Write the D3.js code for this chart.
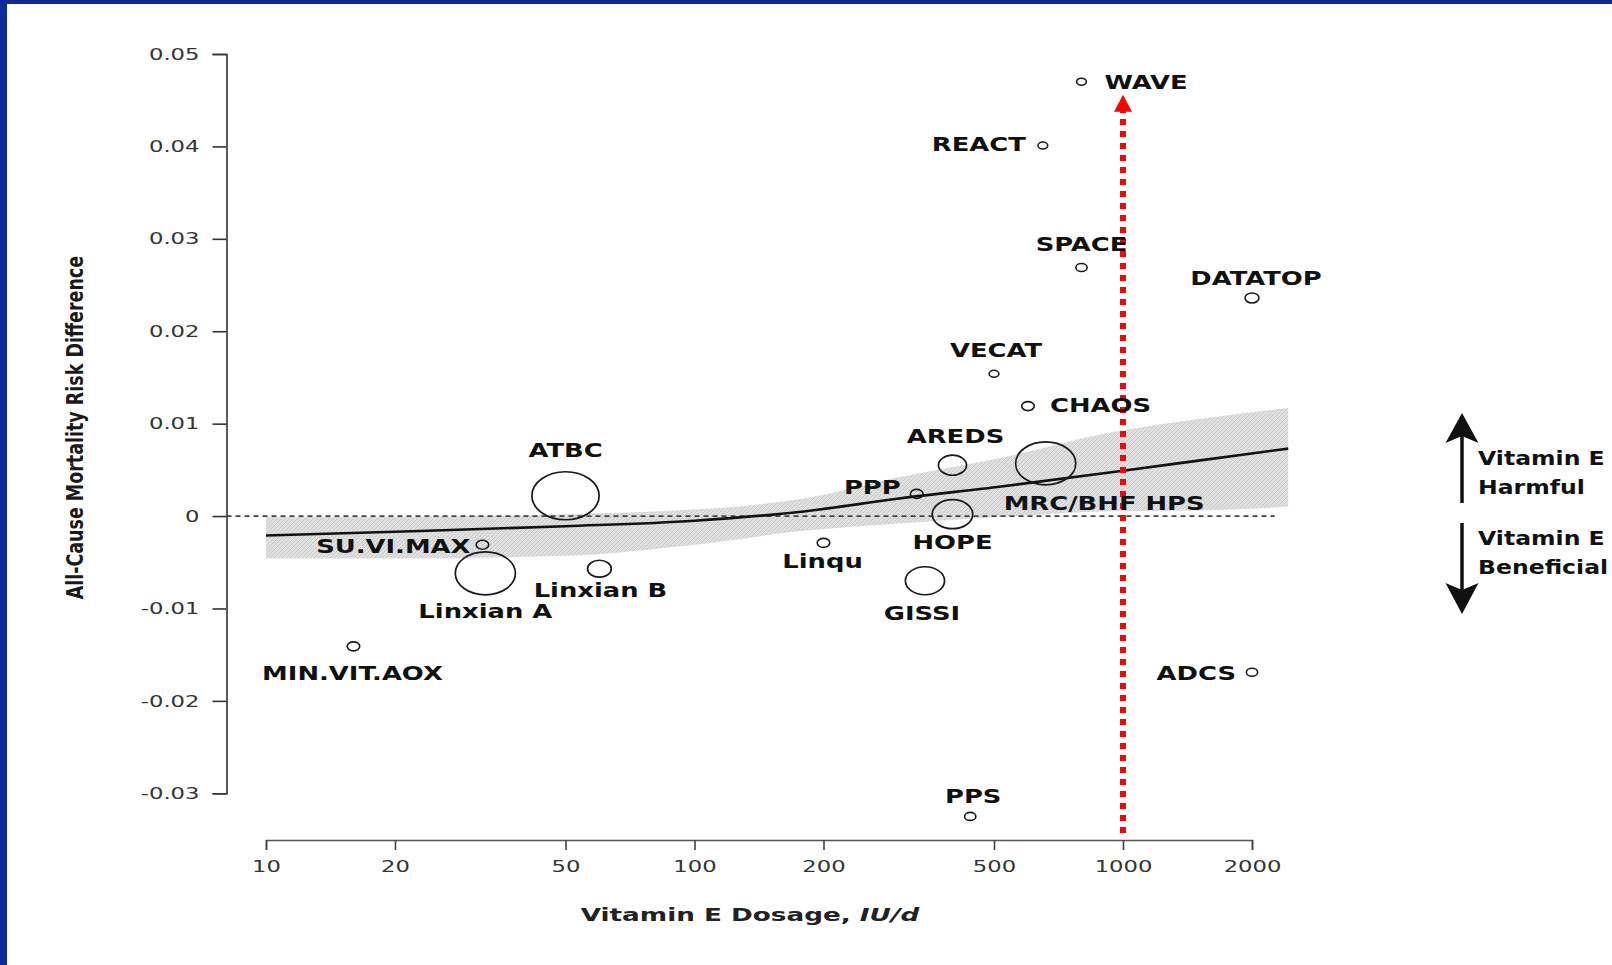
<!DOCTYPE html>
<html>
<head>
<meta charset="utf-8">
<script src="https://cdn.jsdelivr.net/npm/d3@7"></script>
<style>
  html, body { margin: 0; padding: 0; background: #fff; overflow: hidden; }
  svg { display: block; }
  text { font-family: "DejaVu Sans", sans-serif; }
</style>
</head>
<body>
<svg id="chart" width="1612" height="965"></svg>
<script>
// ---- Trials: dose (IU/d), all-cause mortality risk difference, relative weight ----
const studies = ["WAVE", "REACT", "SPACE", "DATATOP", "VECAT", "CHAOS", "AREDS", "PPP", "HOPE",
  "MRC/BHF HPS", "ATBC", "SU.VI.MAX", "Linxian A", "Linxian B", "MIN.VIT.AOX", "Linqu", "GISSI", "ADCS", "PPS"];
const dose = [800, 650, 800, 2000, 500, 600, 400, 330, 400,
  660, 50, 32, 32.5, 60, 16, 200, 345, 2000, 440];
const riskDiff = [0.0470, 0.0401, 0.0269, 0.0236, 0.0154, 0.0119, 0.0055, 0.0024, 0.0002,
  0.0057, 0.0022, -0.0031, -0.0062, -0.0057, -0.0141, -0.0029, -0.0070, -0.0169, -0.0325];
const weight = [2.1, 2.1, 2.8, 4.3, 2.1, 3.5, 17.4, 3.5, 36.5,
  80, 100, 3.5, 80, 12.5, 3.5, 3.5, 34, 2.8, 2.8];

// ---- Dose-response fit and its confidence band ----
const fitDose = [10, 20, 50, 100, 180, 300, 520, 1000, 1500, 2430];
const fitValue = [-0.0021, -0.0017, -0.0011, -0.0005, 0.0005, 0.0019, 0.0032, 0.0049, 0.0060, 0.0073];
const bandDose = [10, 20, 50, 100, 180, 300, 520, 900, 1500, 2430];
const bandUpper = [-0.0001, -0.0001, 0.0002, 0.0007, 0.0019, 0.0042, 0.0063, 0.0089, 0.0105, 0.0117];
const bandLower = [-0.0046, -0.0046, -0.0043, -0.0031, -0.0016, -0.0008, -0.0001, 0.0005, 0.0006, 0.0010];

// ---- Axes ----
const xTicks = [10, 20, 50, 100, 200, 500, 1000, 2000];
const yTicks = [-0.03, -0.02, -0.01, 0, 0.01, 0.02, 0.03, 0.04, 0.05];
const yTickLabels = ["-0.03", "-0.02", "-0.01", "0", "0.01", "0.02", "0.03", "0.04", "0.05"];
const xTitle = "Vitamin E Dosage, ";
const xTitleUnit = "IU/d";
const yTitle = "All-Cause Mortality Risk Difference";

// ---- Highlighted dose and side legend ----
const highlightDose = 1000;
const highlightTop = 0.0456;
const zeroLineEndDose = 2260;
const legendUp = ["Vitamin E", "Harmful"];
const legendDown = ["Vitamin E", "Beneficial"];

// Label placement relative to each bubble: [anchor, dx, dy] in px
const labelLayout = {
  "WAVE": ["start", 23, 7], "REACT": ["end", -17, 6], "SPACE": ["middle", 0, -16],
  "DATATOP": ["middle", 4, -13], "VECAT": ["middle", 2, -17], "CHAOS": ["start", 22, 6],
  "AREDS": ["middle", 3, -22], "PPP": ["end", -16, 0], "HOPE": ["middle", 0, 35],
  "MRC/BHF HPS": ["start", -42, 47], "ATBC": ["middle", 0, -39], "SU.VI.MAX": ["end", -12, 8],
  "Linxian A": ["middle", 0, 45], "Linxian B": ["middle", 1, 28], "MIN.VIT.AOX": ["middle", -1, 34],
  "Linqu": ["middle", -1, 25], "GISSI": ["middle", -3, 39], "ADCS": ["end", -16, 8], "PPS": ["middle", 3, -13]
};

const SX = 1.36;      // horizontal glyph stretch for labels
const SXA = 1.42;     // horizontal glyph stretch for tick labels
const RX = 1.4;       // bubble horizontal/vertical ratio

const svg = d3.select("#chart");
const W = 1612, H = 965;

// frame
svg.append("rect").attr("width", W).attr("height", H).attr("fill", "#0b2d93");
svg.append("rect").attr("x", 7).attr("y", 4).attr("width", W - 7).attr("height", H - 4).attr("fill", "#ffffff");

// pattern for the confidence band
const defs = svg.append("defs");
const pat = defs.append("pattern").attr("id", "hatch").attr("patternUnits", "userSpaceOnUse")
  .attr("width", 4).attr("height", 4);
pat.append("rect").attr("width", 4).attr("height", 4).attr("fill", "#e0e0e0");
pat.append("path").attr("d", "M-1,1 l2,-2 M0,4 l4,-4 M3,5 l2,-2").attr("stroke", "#c9c9c9").attr("stroke-width", 1);

const x = d3.scaleLog().domain([10, 2000]).range([266, 1252]);
const y = d3.scaleLinear().domain([-0.03, 0.05]).range([793.3, 54]);
const r = d3.scaleSqrt().domain([0, 100]).range([0, 24]);
const yAxisX = 226.5, xAxisY = 840;

// stretch helper for axis text
function stretchAxisText(sel) {
  sel.selectAll(".tick text").each(function () {
    const t = d3.select(this);
    const tx = +t.attr("x") || 0, ty = +t.attr("y") || 0;
    t.attr("x", null).attr("y", null)
      .attr("transform", `translate(${tx},${ty}) scale(${SXA},1)`);
  });
}

// confidence band
const band = bandDose.map((d, i) => ({ d, lo: bandLower[i], hi: bandUpper[i] }));
svg.append("path").datum(band)
  .attr("fill", "url(#hatch)")
  .attr("d", d3.area().x(p => x(p.d)).y0(p => y(p.lo)).y1(p => y(p.hi)).curve(d3.curveMonotoneX));

// zero reference
svg.append("line")
  .attr("x1", yAxisX).attr("x2", x(zeroLineEndDose))
  .attr("y1", y(0)).attr("y2", y(0))
  .attr("stroke", "#444").attr("stroke-width", 1.7).attr("stroke-dasharray", "5,4");

// fitted line
const fit = fitDose.map((d, i) => ({ d, v: fitValue[i] }));
svg.append("path").datum(fit)
  .attr("fill", "none").attr("stroke", "#111").attr("stroke-width", 2.6)
  .attr("d", d3.line().x(p => x(p.d)).y(p => y(p.v)).curve(d3.curveMonotoneX));

// y axis
const yAxis = svg.append("g").attr("transform", `translate(${yAxisX},0)`)
  .call(d3.axisLeft(y).tickValues(yTicks).tickFormat((d, i) => yTickLabels[i])
    .tickSize(14).tickSizeOuter(14).tickPadding(13));
yAxis.select(".domain").attr("stroke", "#333").attr("stroke-width", 1.6);
yAxis.selectAll(".tick line").attr("stroke", "#333").attr("stroke-width", 1.6);
yAxis.selectAll(".tick text").attr("font-size", 16).attr("fill", "#333");
stretchAxisText(yAxis);

// x axis
const xAxis = svg.append("g").attr("transform", `translate(0,${xAxisY})`)
  .call(d3.axisBottom(x).tickValues(xTicks).tickFormat(d3.format("d"))
    .tickSize(10).tickSizeOuter(10).tickPadding(11));
xAxis.select(".domain").attr("stroke", "#555").attr("stroke-width", 1.6);
xAxis.selectAll(".tick line").attr("stroke", "#444").attr("stroke-width", 1.6);
xAxis.selectAll(".tick text").attr("font-size", 16).attr("fill", "#333");
stretchAxisText(xAxis);

// axis titles
const xt = svg.append("text")
  .attr("transform", `translate(${(x(10) + x(2000)) / 2 - 9},921) scale(1.5,1)`)
  .attr("text-anchor", "middle").attr("font-size", 17.5).attr("font-weight", "bold").attr("fill", "#222");
xt.append("tspan").text(xTitle);
xt.append("tspan").attr("font-style", "italic").text(xTitleUnit);

svg.append("text")
  .attr("transform", `translate(83,${(y(-0.03) + y(0.05)) / 2 + 4}) scale(1.35,1) rotate(-90)`)
  .attr("text-anchor", "middle").attr("font-size", 17.5).attr("font-weight", "bold").attr("fill", "#1a1a1a")
  .text(yTitle);

// highlighted dose marker
const hx = x(highlightDose);
const tipY = y(highlightTop);
svg.append("line")
  .attr("x1", hx).attr("x2", hx).attr("y1", xAxisY - 7).attr("y2", tipY + 16)
  .attr("stroke", "#ff0000").attr("stroke-width", 6).attr("stroke-dasharray", "6,6");
svg.append("path")
  .attr("d", `M${hx},${tipY} L${hx + 9},${tipY + 17} L${hx - 9},${tipY + 17} Z`)
  .attr("fill", "#ff0000");

// trial bubbles
const trials = studies.map((s, i) => ({ name: s, dose: dose[i], rd: riskDiff[i], w: weight[i] }));
svg.append("g").selectAll("ellipse").data(trials).join("ellipse")
  .attr("cx", d => x(d.dose)).attr("cy", d => y(d.rd))
  .attr("rx", d => r(d.w) * RX).attr("ry", d => r(d.w))
  .attr("fill", "none").attr("stroke", "#1a1a1a")
  .attr("stroke-width", d => r(d.w) > 8 ? 1.7 : 1.6);

// trial labels
svg.append("g").selectAll("text").data(trials).join("text")
  .attr("transform", d => {
    const L = labelLayout[d.name];
    return `translate(${x(d.dose) + L[1]},${y(d.rd) + L[2]}) scale(${SX},1)`;
  })
  .attr("text-anchor", d => labelLayout[d.name][0])
  .attr("font-size", 19).attr("font-weight", "bold").attr("fill", "#111")
  .text(d => d.name);

// side legend: harmful / beneficial arrows
const lx = 1462;
const lg = svg.append("g");
lg.append("line").attr("x1", lx).attr("x2", lx).attr("y1", 436).attr("y2", 503)
  .attr("stroke", "#111").attr("stroke-width", 3.5);
lg.append("path").attr("d", `M${lx},413 L${lx + 16.5},443 L${lx},436 L${lx - 16.5},443 Z`).attr("fill", "#111");
lg.append("line").attr("x1", lx).attr("x2", lx).attr("y1", 523).attr("y2", 590)
  .attr("stroke", "#111").attr("stroke-width", 3.5);
lg.append("path").attr("d", `M${lx},614 L${lx + 16.5},583 L${lx},590 L${lx - 16.5},583 Z`).attr("fill", "#111");

[[legendUp, 465], [legendDown, 545]].forEach(([lines, base]) => {
  lines.forEach((t, i) => {
    lg.append("text")
      .attr("transform", `translate(1478,${base + i * 29}) scale(1.24,1)`)
      .attr("font-size", 19).attr("font-weight", "bold").attr("fill", "#111")
      .text(t);
  });
});
</script>
</body>
</html>
